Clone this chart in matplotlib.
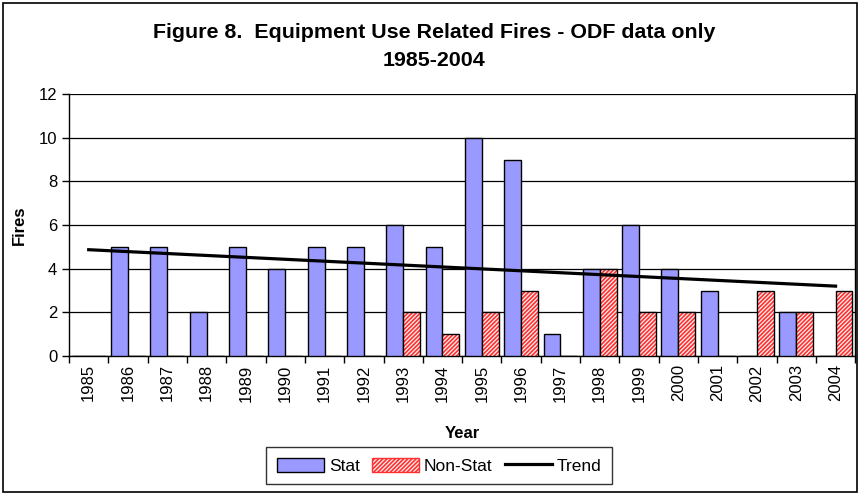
import numpy as np
import matplotlib.pyplot as plt
from matplotlib.patches import Rectangle, Patch
from matplotlib.lines import Line2D

years = [str(y) for y in range(1985, 2005)]
stat = [0, 5, 5, 2, 5, 4, 5, 5, 6, 5, 10, 9, 1, 4, 6, 4, 3, 0, 2, 0]
non_stat = [0, 0, 0, 0, 0, 0, 0, 0, 2, 1, 2, 3, 0, 4, 2, 2, 0, 3, 2, 3]
trend_start, trend_end = 4.87, 3.2

plt.rcParams['font.family'] = ['Liberation Sans', 'DejaVu Sans']
plt.rcParams['hatch.linewidth'] = 1.2

fig = plt.figure(figsize=(8.63, 4.93), dpi=100)
ax = fig.add_axes([0.080, 0.278, 0.911, 0.531])

x = np.arange(len(years))
w = 0.43

ax.bar(x - w / 2, stat, width=w, color='#9999FF', edgecolor='black', linewidth=1, zorder=3)
# hatched fill first, then a plain black outline on top
ax.bar(x + w / 2, non_stat, width=w, color='#FFF0F0', edgecolor='#FF3030', hatch='////////',
       linewidth=0, zorder=3)
ax.bar(x + w / 2, non_stat, width=w, fill=False, edgecolor='black', linewidth=1, zorder=4)

ax.plot([x[0], x[-1]], [trend_start, trend_end], color='black', lw=2.3, zorder=5)

ax.set_xlim(-0.5, len(years) - 0.5)
ax.set_ylim(0, 12)
ax.set_yticks(range(0, 13, 2))
ax.yaxis.grid(True, color='black', lw=0.9, zorder=0)
ax.set_axisbelow(True)

ax.set_xticks(x)
ax.set_xticklabels(years, rotation=90, fontsize=12)
ax.tick_params(axis='x', which='major', length=0, pad=6)
ax.set_xticks(np.arange(-0.5, len(years), 1), minor=True)
ax.tick_params(axis='x', which='minor', length=5, width=1, direction='out')
ax.tick_params(axis='y', labelsize=12, length=5, width=1, direction='out')

for s in ['left', 'bottom', 'right']:
    ax.spines[s].set_linewidth(1)
ax.spines['top'].set_visible(False)

ax.set_ylabel('Fires', fontsize=12, fontweight='bold')
ax.yaxis.set_label_coords(-0.054, 0.5)
ax.set_xlabel('Year', fontsize=12, fontweight='bold')
ax.xaxis.set_label_coords(0.5, -0.268)

fig.text(0.503, 0.935, 'Figure 8.  Equipment Use Related Fires - ODF data only',
         ha='center', va='center', fontsize=15.4, fontweight='bold')
fig.text(0.503, 0.878, '1985-2004', ha='center', va='center', fontsize=15.4, fontweight='bold')

handles = [
    Patch(facecolor='#9999FF', edgecolor='black', label='Stat'),
    Patch(facecolor='#FFF0F0', edgecolor='#FF3030', hatch='////////', label='Non-Stat'),
    Line2D([0], [0], color='black', lw=2.3, label='Trend'),
]
leg = fig.legend(handles=handles, loc='center', bbox_to_anchor=(0.509, 0.055), ncol=3,
                 fontsize=12.5, frameon=True, fancybox=False, edgecolor='black',
                 handlelength=2.7, handleheight=0.9, columnspacing=0.7, handletextpad=0.3,
                 borderpad=0.6)
leg.get_frame().set_linewidth(1)

fig.patches.append(Rectangle((0.0035, 0.002), 0.99, 0.992, transform=fig.transFigure,
                             fill=False, edgecolor='black', lw=1.2))

fig.savefig('out.png', dpi=100)
